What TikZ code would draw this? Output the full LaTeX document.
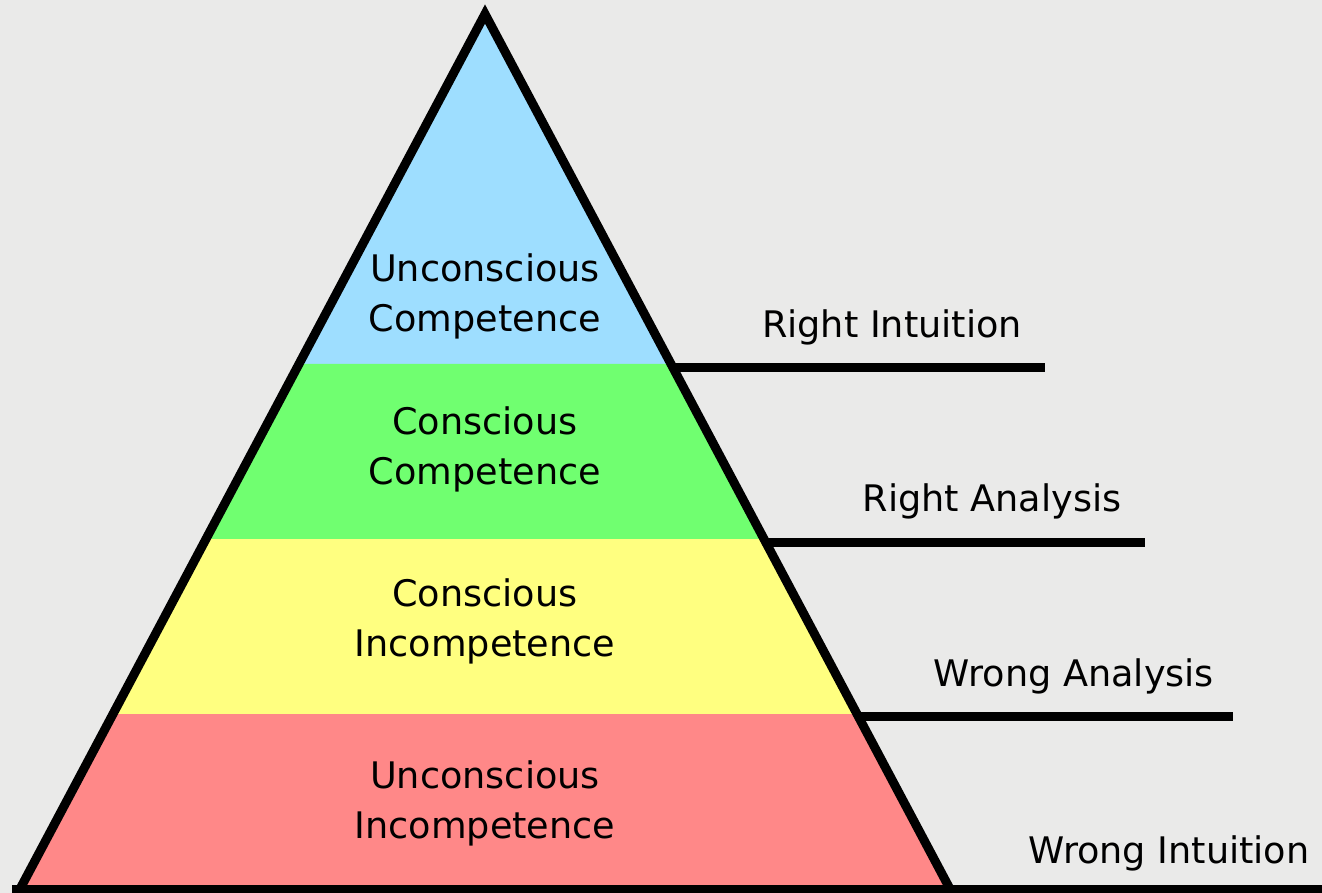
\documentclass[tikz,border=0pt]{standalone}
\usepackage{fontspec}
\setmainfont{DejaVu Sans}
\usetikzlibrary{calc}

\definecolor{paper}{HTML}{EAEAE9}
\definecolor{tierblue}{HTML}{9EDEFF}
\definecolor{tiergreen}{HTML}{70FF70}
\definecolor{tieryellow}{HTML}{FFFF80}
\definecolor{tierred}{HTML}{FF8888}

\begin{document}
\begin{tikzpicture}[
  x=0.5pt, y=-0.5pt,
  tiertext/.style={%
    align=center,%
    font=\fontsize{18.3}{25}\selectfont,%
    inner sep=0pt%
  },
  sidetext/.style={%
    anchor=base,%
    font=\fontsize{18.3}{25}\selectfont,%
    inner sep=0pt%
  },
  edgeline/.style={%
    draw=black,%
    line width=4.5pt,%
    line join=miter%
  }
]

  % background
  \fill[paper] (0,0) rectangle (1322,893);
  \useasboundingbox (0,0) rectangle (1322,893);

  \coordinate (apex) at (485,14);
  \coordinate (bl)   at (20,889);
  \coordinate (br)   at (950,889);

  % bands
  \fill[tierblue]   (apex) -- ($(apex)!0.4!(br)$) -- ($(apex)!0.4!(bl)$) -- cycle;
  \fill[tiergreen]  ($(apex)!0.4!(bl)$) -- ($(apex)!0.4!(br)$)
                    -- ($(apex)!0.6!(br)$) -- ($(apex)!0.6!(bl)$) -- cycle;
  \fill[tieryellow] ($(apex)!0.6!(bl)$) -- ($(apex)!0.6!(br)$)
                    -- ($(apex)!0.8!(br)$) -- ($(apex)!0.8!(bl)$) -- cycle;
  \fill[tierred]    ($(apex)!0.8!(bl)$) -- ($(apex)!0.8!(br)$)
                    -- (br) -- (bl) -- cycle;

  \draw[edgeline] (bl) -- (apex) -- (br);

  \node [tiertext] (uc) at (485,296) {Unconscious\\Competence};
  \node [tiertext] (cc) at (485,449) {Conscious\\Competence};
  \node [tiertext] (ci) at (485,621) {Conscious\\Incompetence};
  \node [tiertext] (ui) at (485,803) {Unconscious\\Incompetence};

  % side lines
  \coordinate (s1) at (672,367);  \coordinate (e1) at (1045,367);
  \coordinate (s2) at (765,542);  \coordinate (e2) at (1145,542);
  \coordinate (s3) at (858,716);  \coordinate (e3) at (1233,716);
  \coordinate (s4) at (12,889);   \coordinate (e4) at (1322,889);

  \draw[edgeline] (s1) -- (e1);
  \draw[edgeline] (s2) -- (e2);
  \draw[edgeline] (s3) -- (e3);
  \draw[edgeline] (s4) -- (e4);

  \node [sidetext] (ri) at (892,337)  {Right Intuition};
  \node [sidetext] (ra) at (992,511)  {Right Analysis};
  \node [sidetext] (wa) at (1074,686) {Wrong Analysis};
  \node [sidetext] (wi) at (1169,863) {Wrong Intuition};

\end{tikzpicture}
\end{document}
